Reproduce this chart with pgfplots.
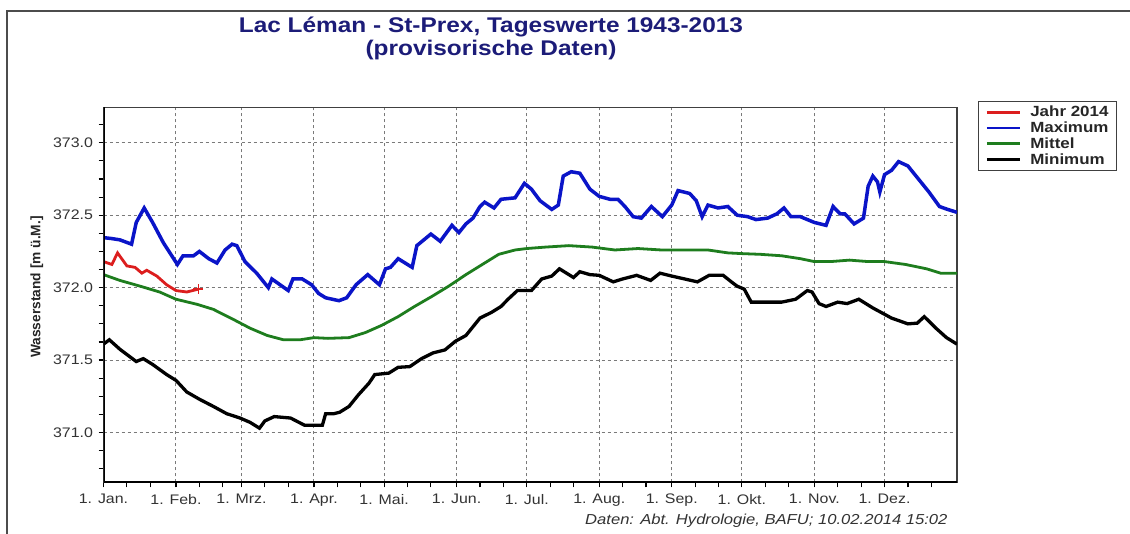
\documentclass[border=0pt]{standalone}
\usepackage{fontspec}
\setmainfont{Liberation Sans}[FakeStretch=1.15]
\newfontfamily\yfont{Liberation Sans}
\usepackage{pgfplots}
\pgfplotsset{compat=1.18}
\definecolor{ttl}{HTML}{1C1C78}
\definecolor{cmax}{HTML}{0A14C8}
\definecolor{cmit}{HTML}{1E7D1E}
\definecolor{cmin}{HTML}{000000}
\definecolor{cjahr}{HTML}{DC1E1E}
\definecolor{gridc}{HTML}{7A7A7A}
\begin{document}
\begin{tikzpicture}
\path[use as bounding box, fill=white] (0bp,0bp) rectangle (1130bp,534bp);
\draw[black!70, line width=1.3bp] (7bp,0bp) -- (7bp,523bp) -- (1130bp,523bp);
\node[align=center, text=ttl, font={\bfseries\fontsize{21.3}{23}\selectfont}] at (491bp,495.5bp) {Lac Léman - St-Prex, Tageswerte 1943-2013\\(provisorische Daten)};
\node[anchor=east, text=black!80, font={\itshape\fontsize{14.5}{16}\selectfont}] at (951bp,13bp) {Daten: Abt. Hydrologie, BAFU; 10.02.2014 15:02};
\begin{axis}[
  at={(103.5bp,51.5bp)}, anchor=south west, scale only axis,
  width=853.5bp, height=375.2bp,
  xmin=0, xmax=365, ymin=370.655, ymax=373.245,
  xtick={0,31,59,90,120,151,181,212,243,273,304,334},
  xticklabels={1. Jan.,1. Feb.,1. Mrz.,1. Apr.,1. Mai.,1. Jun.,1. Jul.,1. Aug.,1. Sep.,1. Okt.,1. Nov.,1. Dez.},
  minor xtick={10,20,41,51,69,79,100,110,130,140,161,171,191,201,222,232,253,263,283,293,314,324,344,354},
  ytick={371,371.5,372,372.5,373},
  minor ytick={370.75,370.875,371.125,371.25,371.375,371.625,371.75,371.875,372.125,372.25,372.375,372.625,372.75,372.875,373.125},
  grid=major,
  major grid style={gridc, dash pattern=on 3bp off 3bp, line width=1bp},
  tick align=outside, tick pos=left,
  major tick length=5bp, minor tick length=5bp,
  every tick/.style={black, line width=1.2bp},
  axis line style={black!75, line width=1.2bp},
  ticklabel style={font={\fontsize{13.9}{15}\selectfont}, text=black!80},
  yticklabel style={xshift=-2bp, /pgf/number format/.cd, fixed, fixed zerofill, precision=1, assume math mode=true},
  xticklabel style={yshift=-3bp},
  ylabel={Wasserstand [m ü.M.]},
  ylabel style={at={(rel axis cs:-0.078,0.521)}, anchor=center, font={\yfont\bfseries\fontsize{13.8}{15}\selectfont}, text=black!85},
  legend style={at={(1.0246,1.0162)}, anchor=north west, draw=black!75, line width=1bp,
    font={\bfseries\fontsize{14.8}{16}\selectfont}, text=black!85, inner xsep=7bp, inner ysep=3.5bp,
    row sep=1.6bp, nodes={inner sep=1bp},
    /tikz/every odd column/.append style={column sep=8bp}},
  legend cell align=left,
  legend image code/.code={\draw[#1, line width=2.8bp] (0bp,0bp) -- (33bp,0bp);},
]
\addplot[cjahr, line width=2.8bp] coordinates {
(0,372.18)(3.6,372.16)(6,372.24)(10,372.15)(13.5,372.14)(16.4,372.10)(18.5,372.12)(22.8,372.08)(27,372.02)(31,371.98)(35.6,371.97)(40.6,371.99)};
\addlegendentry{Jahr 2014}
\addplot[cmax, line width=3.5bp] coordinates {
(0,372.345)(3,372.34)(7,372.33)(12,372.30)(14,372.45)(17.4,372.55)(21,372.45)(25.6,372.31)(31.6,372.16)(34,372.22)(38.5,372.22)(41,372.25)(45,372.20)(48.5,372.17)(52,372.26)(55,372.30)(57,372.29)(60.5,372.18)(65.5,372.10)(70.5,372.00)(72,372.06)(75.5,372.02)(79,371.98)(81,372.06)(85,372.06)(89,372.02)(92,371.96)(95,371.93)(100.7,371.91)(104,371.93)(108,372.02)(113,372.09)(118,372.02)(120.6,372.13)(122.7,372.14)(126,372.20)(129,372.17)(132,372.14)(134,372.29)(137,372.33)(140,372.37)(144,372.32)(149,372.43)(152,372.38)(155,372.44)(158,372.48)(161,372.56)(163,372.59)(167,372.55)(170,372.61)(176,372.62)(180,372.72)(183,372.68)(186.7,372.60)(191.7,372.54)(194.5,372.57)(196.6,372.77)(200,372.80)(203.7,372.79)(208,372.68)(212,372.63)(216.6,372.61)(220,372.61)(223,372.56)(226.5,372.49)(230,372.48)(234.3,372.56)(239,372.49)(243,372.57)(245.7,372.67)(250.7,372.65)(253.5,372.60)(256,372.49)(258.5,372.57)(262.8,372.55)(267,372.56)(271,372.50)(275.5,372.49)(279,372.47)(284,372.48)(288,372.51)(291,372.55)(294,372.49)(298,372.49)(304,372.45)(309,372.43)(312,372.56)(315,372.51)(317,372.51)(321,372.44)(325,372.48)(327,372.70)(329,372.77)(331,372.73)(332,372.66)(334,372.78)(337,372.81)(340,372.87)(344,372.84)(348.5,372.75)(353,372.66)(357.5,372.56)(361,372.54)(365,372.52)};
\addlegendentry{Maximum}
\addplot[cmit, line width=2.8bp] coordinates {
(0,372.09)(7,372.05)(15.7,372.01)(24,371.97)(31,371.92)(40,371.885)(47,371.85)(55.6,371.78)(62.7,371.72)(70,371.67)(77,371.64)(84,371.64)(90,371.655)(96,371.65)(105,371.655)(112,371.69)(119,371.74)(126,371.80)(133,371.87)(140.5,371.94)(147.6,372.01)(155,372.09)(162,372.16)(169,372.23)(176,372.26)(181,372.27)(189,372.28)(199,372.29)(209,372.28)(218.7,372.26)(228.6,372.27)(238.6,372.26)(248.5,372.26)(258.5,372.26)(267,372.24)(273,372.235)(281,372.23)(290,372.22)(298,372.20)(304,372.18)(311,372.18)(319,372.19)(327,372.18)(334,372.18)(343,372.16)(352,372.13)(358,372.10)(365,372.10)};
\addlegendentry{Mittel}
\addplot[cmin, line width=3.3bp] coordinates {
(0,371.61)(2.5,371.64)(7,371.575)(14,371.49)(17,371.51)(21,371.47)(27,371.40)(31,371.36)(35.6,371.28)(41,371.23)(47,371.18)(52.7,371.13)(58.4,371.10)(62.7,371.07)(66.7,371.03)(69,371.08)(73,371.11)(80,371.10)(86,371.05)(93.6,371.05)(95,371.13)(98.5,371.13)(101,371.14)(105,371.18)(109,371.26)(113.5,371.34)(116,371.40)(122,371.41)(126,371.45)(131,371.455)(136,371.51)(141,371.55)(146,371.57)(150.5,371.63)(155,371.67)(158,371.73)(161,371.79)(166,371.83)(170,371.87)(173,371.92)(177,371.98)(183,371.98)(187.4,372.06)(191.7,372.08)(195,372.13)(201,372.07)(203.7,372.11)(208,372.09)(212,372.085)(218,372.04)(222,372.06)(228,372.085)(234,372.05)(238,372.10)(243,372.08)(248.5,372.06)(254,372.04)(259,372.085)(265,372.085)(268.5,372.04)(271,372.01)(274,371.99)(277,371.90)(284,371.90)(290,371.90)(296,371.92)(301,371.98)(303,371.97)(306,371.89)(309,371.87)(314,371.90)(318,371.89)(323,371.92)(329,371.86)(337,371.79)(344,371.75)(348,371.755)(351,371.80)(356,371.72)(360.5,371.655)(365,371.61)};
\addlegendentry{Minimum}
\addplot[cjahr, only marks, mark=+, mark size=5bp, line width=1.3bp, forget plot] coordinates {(40.6,371.99)};
\draw[black, line width=2.6bp] (rel axis cs:0,1) -- (rel axis cs:0,0) -- (rel axis cs:1,0);
\end{axis}
\end{tikzpicture}
\end{document}
